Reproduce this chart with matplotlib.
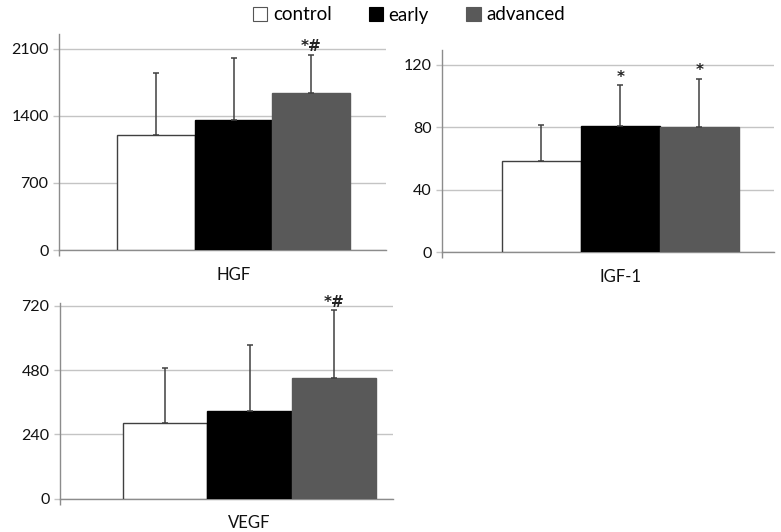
import matplotlib
matplotlib.use("Agg")
import matplotlib.pyplot as plt
from matplotlib.patches import Patch

plt.rcParams['font.family'] = ['Lato', 'DejaVu Sans']

groups = ["control", "early", "advanced"]
colors = ["#ffffff", "#000000", "#595959"]

hgf_means = [1200, 1360, 1640]
hgf_sd = [650, 645, 400]
hgf_marks = ["", "", "*#"]

igf_means = [58.5, 80.6, 80.4]
igf_sd = [22.8, 26.4, 30.8]
igf_marks = ["", "*", "*"]

vegf_means = [281, 327, 450]
vegf_sd = [205, 246, 253]
vegf_marks = ["", "", "*#"]

W, H = 781, 532
fig = plt.figure(figsize=(W / 100, H / 100), dpi=100)

AX_COL = "#8c8c8c"
GRID_COL = "#c4c4c4"
ERR_COL = "#404040"

panels = [
    ("HGF", hgf_means, hgf_sd, hgf_marks, [0, 700, 1400, 2100], (59, 386, 34.3, 250), 2251, (-2.252, 1.968)),
    ("IGF-1", igf_means, igf_sd, igf_marks, [0, 40, 80, 120], (442.3, 774, 50, 252.3), 129.6, (-2.25, 1.943)),
    ("VEGF", vegf_means, vegf_sd, vegf_marks, [0, 240, 480, 720], (60, 393, 303, 498.7), 730, (-2.248, 1.702)),
]

for name, means, sd, marks, yticks, (l, r, t, b), ytop, xl in panels:
    ax = fig.add_axes([l / W, 1 - b / H, (r - l) / W, (b - t) / H])
    xs = [-1, 0, 1]
    for x, m, s, c, mk in zip(xs, means, sd, colors, marks):
        ax.bar(x, m, width=1.0, color=c,
               edgecolor="#404040" if c == "#ffffff" else c,
               linewidth=1.0, zorder=3)
        ax.errorbar(x, m, yerr=[[0], [s]], fmt="none", ecolor=ERR_COL,
                    elinewidth=1.1, capsize=2.5, capthick=1.1, zorder=4)
        if mk:
            ax.annotate(mk, (x, m + s), xytext=(0, 0.5), textcoords="offset points",
                        ha="center", va="bottom", fontsize=11, color="#222222",
                        family=["DejaVu Sans"], fontweight="bold", zorder=5)
    ax.set_xlim(*xl)
    ax.set_ylim(0, ytop)
    ax.set_yticks(yticks)
    ax.set_yticklabels([str(v) for v in yticks], fontsize=11.5, color="#111111")
    ax.yaxis.grid(True, color=GRID_COL, linewidth=1.0, zorder=0)
    ax.set_axisbelow(True)
    for sp in ["top", "right"]:
        ax.spines[sp].set_visible(False)
    for sp in ["left", "bottom"]:
        ax.spines[sp].set_color(AX_COL)
        ax.spines[sp].set_linewidth(1.0)
    ax.tick_params(axis="y", length=4.5, color=GRID_COL, width=1.0, pad=3)
    ax.set_xticks([xl[0]])
    ax.set_xticklabels([""])
    ax.tick_params(axis="x", which="major", length=4.5, color=AX_COL, width=1.0)
    ax.set_xticks([0], minor=True)
    ax.set_xticklabels([name], minor=True, fontsize=12, color="#111111")
    ax.tick_params(axis="x", which="minor", length=0, pad=12)

handles = [Patch(facecolor=c, edgecolor="#555555" if c == "#ffffff" else c, linewidth=0.8)
           for c in colors]
fig.legend(handles, groups, loc="center", bbox_to_anchor=(409 / W, 1 - 15 / H),
           ncol=3, frameon=False, fontsize=13.5, handlelength=0.75, handleheight=0.75,
           handletextpad=0.3, columnspacing=2.0)

fig.savefig("out.png", dpi=100)
